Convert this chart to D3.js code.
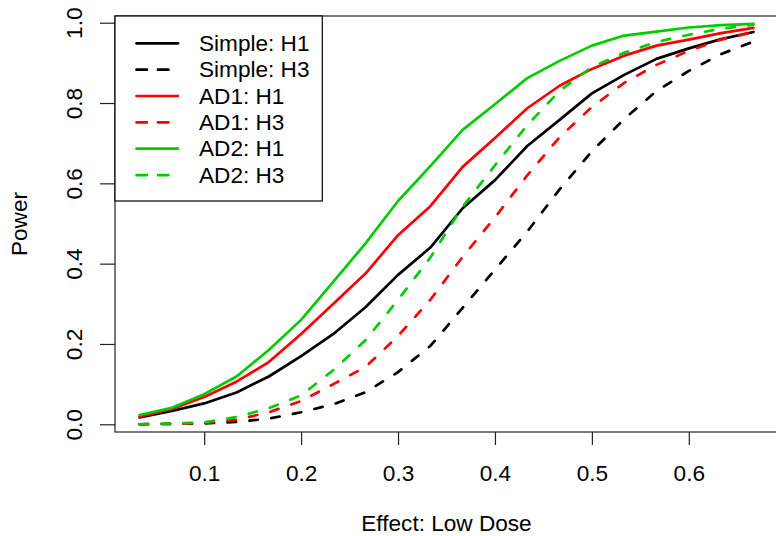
<!DOCTYPE html>
<html>
<head>
<meta charset="utf-8">
<script src="https://cdn.jsdelivr.net/npm/d3@7"></script>
<style>
  body { margin: 0; background: #fff; }
  text { font-family: "Liberation Sans", Arial, Helvetica, sans-serif; fill: #000; }
</style>
</head>
<body>
<div id="container"></div>
<script>
// effect sizes k/30, k = 1..20
var effect = [1,2,3,4,5,6,7,8,9,10,11,12,13,14,15,16,17,18,19,20].map(function (k) { return k / 30; });

var simpleH1 = [0.017, 0.033, 0.052, 0.079, 0.119, 0.170, 0.225, 0.292, 0.372, 0.440,
                0.538, 0.608, 0.693, 0.758, 0.824, 0.870, 0.910, 0.936, 0.959, 0.977];
var simpleH3 = [0.000, 0.001, 0.002, 0.006, 0.014, 0.030, 0.050, 0.080, 0.130, 0.195,
                0.290, 0.385, 0.480, 0.585, 0.680, 0.760, 0.830, 0.880, 0.922, 0.953];
var ad1H1 = [0.019, 0.038, 0.068, 0.106, 0.155, 0.225, 0.300, 0.376, 0.471, 0.543,
             0.641, 0.713, 0.787, 0.843, 0.885, 0.918, 0.943, 0.958, 0.974, 0.987];
var ad1H3 = [0.000, 0.001, 0.003, 0.011, 0.030, 0.058, 0.100, 0.143, 0.220, 0.310,
             0.417, 0.515, 0.620, 0.715, 0.790, 0.850, 0.895, 0.930, 0.958, 0.977];
var ad2H1 = [0.023, 0.041, 0.075, 0.119, 0.185, 0.260, 0.355, 0.451, 0.556, 0.643,
             0.733, 0.797, 0.862, 0.905, 0.943, 0.968, 0.978, 0.988, 0.994, 0.997];
var ad2H3 = [0.000, 0.002, 0.005, 0.018, 0.040, 0.072, 0.135, 0.210, 0.310, 0.415,
             0.542, 0.645, 0.745, 0.830, 0.890, 0.925, 0.952, 0.970, 0.985, 0.995];

var seriesNames = ["Simple: H1", "Simple: H3", "AD1: H1", "AD1: H3", "AD2: H1", "AD2: H3"];
var seriesValues = [simpleH1, simpleH3, ad1H1, ad1H3, ad2H1, ad2H3];
var seriesColors = ["#000000", "#000000", "#ff0000", "#ff0000", "#00cd00", "#00cd00"];
var seriesDashed = [false, true, false, true, false, true];

var xTicks = [0.1, 0.2, 0.3, 0.4, 0.5, 0.6];
var yTicks = [0, 0.2, 0.4, 0.6, 0.8, 1.0];

var drawChart = function () {
    var W = 776, H = 536;
    var pLeft = 115, pRight = 778, pTop = 16, pBottom = 432;
    var fs = 22.6;
    var dash = "8.5 13.5";

    var svg = d3.select("#container")
        .append("svg")
        .attr("width", W)
        .attr("height", H);

    var x = d3.scaleLinear().domain([0.008, 0.692]).range([pLeft, pRight]);
    var y = d3.scaleLinear().domain([-0.0192, 1.0167]).range([pBottom, pTop]);

    // lines
    var line = d3.line()
        .x(function (d, i) { return x(effect[i]); })
        .y(function (d) { return y(d); });

    seriesValues.forEach(function (vals, s) {
        svg.append("path")
            .datum(vals)
            .attr("d", line)
            .attr("fill", "none")
            .attr("stroke", seriesColors[s])
            .attr("stroke-width", 2.7)
            .attr("stroke-linecap", "round")
            .attr("stroke-linejoin", "round")
            .attr("stroke-dasharray", seriesDashed[s] ? dash : null);
    });

    // box
    svg.append("rect")
        .attr("x", pLeft)
        .attr("y", pTop)
        .attr("width", pRight - pLeft)
        .attr("height", pBottom - pTop)
        .attr("fill", "none")
        .attr("stroke", "#222")
        .attr("stroke-width", 1.2);

    // x axis
    var xAxis = svg.append("g")
        .attr("transform", "translate(0," + pBottom + ")")
        .call(d3.axisBottom(x).tickValues(xTicks).tickSize(13)
            .tickFormat(d3.format(".1f")));
    xAxis.select(".domain").remove();
    xAxis.selectAll("line").attr("stroke", "#222").attr("stroke-width", 1.2);
    xAxis.selectAll("text")
        .attr("font-size", fs)
        .attr("dy", null)
        .attr("y", 48.5)
        .attr("fill", "#000")
        .style("font-family", "'Liberation Sans', Arial, sans-serif");

    // y axis
    var yAxis = svg.append("g")
        .attr("transform", "translate(" + pLeft + ",0)")
        .call(d3.axisLeft(y).tickValues(yTicks).tickSize(15)
            .tickFormat(d3.format(".1f")));
    yAxis.select(".domain").remove();
    yAxis.selectAll("line").attr("stroke", "#222").attr("stroke-width", 1.2);
    yAxis.selectAll("text")
        .attr("font-size", fs)
        .attr("x", null)
        .attr("dy", null)
        .attr("text-anchor", "middle")
        .attr("fill", "#000")
        .style("font-family", "'Liberation Sans', Arial, sans-serif")
        .attr("transform", "translate(-33.5,0) rotate(-90)");

    // axis titles
    svg.append("text")
        .attr("x", (pLeft + pRight) / 2)
        .attr("y", 531)
        .attr("text-anchor", "middle")
        .attr("font-size", fs)
        .text("Effect: Low Dose");

    svg.append("text")
        .attr("transform", "translate(27," + (pTop + pBottom) / 2 + ") rotate(-90)")
        .attr("text-anchor", "middle")
        .attr("font-size", fs)
        .text("Power");

    // legend
    var legend = svg.append("g");
    legend.append("rect")
        .attr("x", pLeft)
        .attr("y", pTop)
        .attr("width", 207.3)
        .attr("height", 185)
        .attr("fill", "#fff")
        .attr("stroke", "#000")
        .attr("stroke-width", 1.2);

    seriesNames.forEach(function (name, i) {
        var ry = 43.3 + i * 26.35;
        legend.append("line")
            .attr("x1", 136.5).attr("x2", 178)
            .attr("y1", ry).attr("y2", ry)
            .attr("stroke", seriesColors[i])
            .attr("stroke-width", 2.7)
            .attr("stroke-linecap", "round")
            .attr("stroke-dasharray", seriesDashed[i] ? "10.5 11" : null);
        legend.append("text")
            .attr("x", 199)
            .attr("y", ry + 7.6)
            .attr("font-size", fs)
            .text(name);
    });
};

window.onload = drawChart;
</script>
</body>
</html>
